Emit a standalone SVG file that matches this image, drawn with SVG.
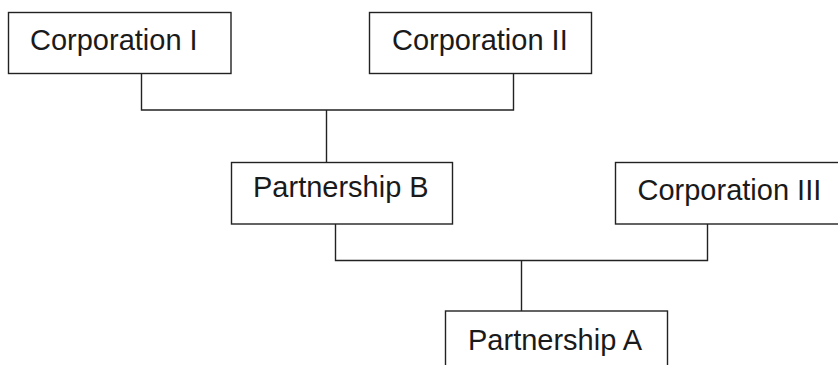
<svg xmlns="http://www.w3.org/2000/svg" width="838" height="365" viewBox="0 0 838 365">
<style>
.box{fill:#fff;stroke:#222;stroke-width:1.4}
.lbl{font-family:"Liberation Sans",Arial,sans-serif;font-size:29px;fill:#1a1a1a}
.conn{fill:none;stroke:#222;stroke-width:1.4}
</style>
<rect width="838" height="365" fill="#fff"/>
<g id="connectors">
<polyline class="conn" points="141.5,74 141.5,110 513.5,110 513.5,74"/>
<line class="conn" x1="326.5" y1="110" x2="326.5" y2="162"/>
<polyline class="conn" points="335.5,224 335.5,260.5 707.5,260.5 707.5,224"/>
<line class="conn" x1="521.5" y1="260.5" x2="521.5" y2="311"/>
</g>
<g id="corp1">
<rect class="box" x="8.5" y="12.5" width="222.5" height="61"/>
<text class="lbl" x="30" y="50">Corporation I</text>
</g>
<g id="corp2">
<rect class="box" x="369.5" y="12.5" width="222" height="61"/>
<text class="lbl" x="392" y="50">Corporation II</text>
</g>
<g id="partnershipB">
<rect class="box" x="231.5" y="162.5" width="221" height="61.5"/>
<text class="lbl" x="253" y="197">Partnership B</text>
</g>
<g id="corp3">
<rect class="box" x="615.5" y="162.5" width="240" height="61.5"/>
<text class="lbl" x="637.5" y="200">Corporation III</text>
</g>
<g id="partnershipA">
<rect class="box" x="445.5" y="311" width="222" height="70"/>
<text class="lbl" x="468" y="350">Partnership A</text>
</g>
</svg>
